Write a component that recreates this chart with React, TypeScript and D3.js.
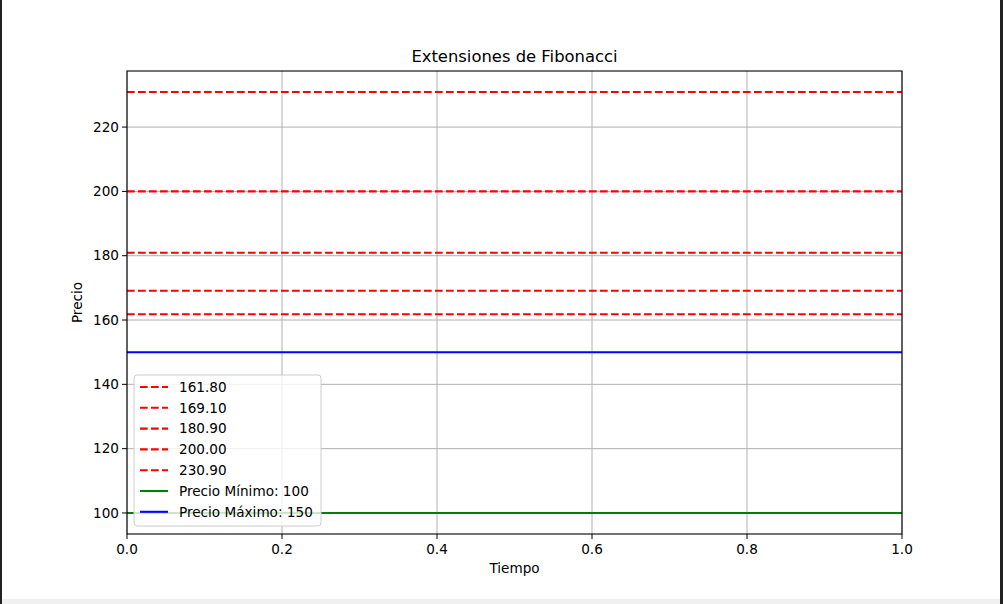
import React from 'react';
import * as d3 from 'd3';

const levels = [161.8, 169.1, 180.9, 200.0, 230.9];
const levelLabels = ['161.80', '169.10', '180.90', '200.00', '230.90'];
const precioMin = 100;
const precioMax = 150;
const xTicks = [0, 0.2, 0.4, 0.6, 0.8, 1.0];
const yTicks = [100, 120, 140, 160, 180, 200, 220];

const W = 1003;
const H = 604;
const margin = { left: 127, right: 101, top: 71, bottom: 70 };
const font = "'DejaVu Sans', sans-serif";
const fs = 13.6;

function App() {
  const pw = W - margin.left - margin.right;
  const ph = H - margin.top - margin.bottom;

  // matplotlib-like 5% margins
  const lo = d3.min([precioMin, ...levels]) as number;
  const hi = d3.max([precioMax, ...levels]) as number;
  const pad = (hi - lo) * 0.05;

  const x = d3.scaleLinear().domain([0, 1]).range([margin.left, margin.left + pw]);
  const y = d3.scaleLinear().domain([lo - pad, hi + pad]).range([margin.top + ph, margin.top]);

  const dash = '7.7,3.3';
  const lw = 2.08;

  const entries = [
    ...levelLabels.map(l => ({ label: l, color: 'red', dash })),
    { label: `Precio Mínimo: ${precioMin}`, color: 'green', dash: null },
    { label: `Precio Máximo: ${precioMax}`, color: 'blue', dash: null },
  ];

  const legX = 134;
  const legY = 375;
  const rowH = 20.8;

  return (
    <svg width={W} height={H} style={{ position: 'absolute', left: 0, top: 0, background: '#fff' }}>
      <rect x={0} y={0} width={W} height={H} fill="#fff" />
      <text x={margin.left + pw / 2} y={62} textAnchor="middle" fontFamily={font} fontSize={16.4} fill="#000">
        Extensiones de Fibonacci
      </text>

      {/* grid */}
      {xTicks.map(t => (
        <line key={'gx' + t} x1={x(t)} x2={x(t)} y1={margin.top} y2={margin.top + ph} stroke="#b0b0b0" strokeWidth={1} />
      ))}
      {yTicks.map(t => (
        <line key={'gy' + t} x1={margin.left} x2={margin.left + pw} y1={y(t)} y2={y(t)} stroke="#b0b0b0" strokeWidth={1} />
      ))}

      {/* levels */}
      {levels.map(v => (
        <line key={'l' + v} x1={margin.left} x2={margin.left + pw} y1={y(v)} y2={y(v)} stroke="red" strokeWidth={lw} strokeDasharray={dash} />
      ))}
      <line x1={margin.left} x2={margin.left + pw} y1={y(precioMin)} y2={y(precioMin)} stroke="green" strokeWidth={lw} />
      <line x1={margin.left} x2={margin.left + pw} y1={y(precioMax)} y2={y(precioMax)} stroke="blue" strokeWidth={lw} />

      {/* frame */}
      <rect x={margin.left} y={margin.top} width={pw} height={ph} fill="none" stroke="#000" strokeWidth={1.1} />

      {/* axes */}
      {xTicks.map(t => (
        <g key={'xt' + t}>
          <line x1={x(t)} x2={x(t)} y1={margin.top + ph} y2={margin.top + ph + 5} stroke="#000" strokeWidth={1} />
          <text x={x(t)} y={margin.top + ph + 20} textAnchor="middle" fontFamily={font} fontSize={fs} fill="#000">
            {t.toFixed(1)}
          </text>
        </g>
      ))}
      {yTicks.map(t => (
        <g key={'yt' + t}>
          <line x1={margin.left - 5} x2={margin.left} y1={y(t)} y2={y(t)} stroke="#000" strokeWidth={1} />
          <text x={margin.left - 8} y={y(t)} dy="0.35em" textAnchor="end" fontFamily={font} fontSize={fs} fill="#000">
            {t}
          </text>
        </g>
      ))}
      <text x={margin.left + pw / 2} y={573} textAnchor="middle" fontFamily={font} fontSize={fs} fill="#000">Tiempo</text>
      <text transform={`translate(82,${margin.top + ph / 2}) rotate(-90)`} textAnchor="middle" fontFamily={font} fontSize={fs} fill="#000">Precio</text>

      {/* legend */}
      <rect x={legX} y={legY} width={187} height={151} rx={3} fill="#fff" fillOpacity={0.8} stroke="#cccccc" strokeWidth={1} />
      {entries.map((e, i) => {
        const cy = legY + 12 + i * rowH;
        return (
          <g key={'lg' + i}>
            <line x1={140} x2={168} y1={cy} y2={cy} stroke={e.color} strokeWidth={lw} strokeDasharray={e.dash || undefined} />
            <text x={179} y={cy} dy="0.35em" fontFamily={font} fontSize={fs} fill="#000">{e.label}</text>
          </g>
        );
      })}

      {/* window edges */}
      <rect x={0} y={0} width={2} height={H} fill="#222" />
      <rect x={1000} y={0} width={3} height={H} fill="#222" />
      <rect x={2} y={599} width={998} height={5} fill="#f0f0f0" />
    </svg>
  );
}

export default App;
